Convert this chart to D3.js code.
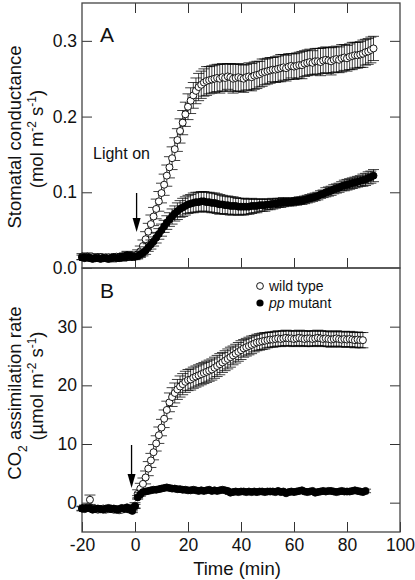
<!DOCTYPE html>
<html><head><meta charset="utf-8">
<script src="https://cdn.jsdelivr.net/npm/d3@7"></script>
<style>body{margin:0;background:#fff}svg{display:block}text{font-family:"Liberation Sans",Arial,sans-serif;fill:#111}</style>
</head><body><svg id="c" width="415" height="580"></svg>
<script>
// time grid: 1-min sampling starting at -20 min
const timeStart = -20;
// Panel A: stomatal conductance (mol m-2 s-1)
const wtA = [0.015,0.014,0.015,0.014,0.014,0.013,0.014,0.014,0.013,0.014,0.014,0.013,0.014,0.015,0.014,0.014,0.015,0.016,0.015,0.016,
0.016,0.018,0.022,0.029,0.038,0.048,0.058,0.068,0.078,0.088,0.099,
0.110,0.122,0.133,0.145,0.157,0.169,0.181,0.192,0.203,0.213,
0.221,0.228,0.234,0.239,0.242,0.245,0.247,0.248,0.249,0.250,
0.251,0.250,0.252,0.251,0.253,0.252,0.250,0.251,0.252,0.251,
0.250,0.252,0.253,0.252,0.254,0.255,0.256,0.258,0.259,0.260,
0.261,0.262,0.262,0.263,0.264,0.265,0.264,0.266,0.267,0.266,
0.267,0.268,0.268,0.270,0.271,0.272,0.271,0.273,0.273,0.272,
0.274,0.275,0.274,0.273,0.275,0.276,0.275,0.277,0.278,0.277,
0.279,0.280,0.281,0.281,0.282,0.283,0.285,0.286,0.288,0.290];
const wtAErr = [0.004,0.004,0.005,0.004,0.004,0.004,0.005,0.004,0.004,0.004,0.004,0.005,0.004,0.004,0.004,0.005,0.005,0.006,0.005,0.005,
0.005,0.006,0.007,0.008,0.010,0.011,0.012,0.012,0.013,0.013,0.013,
0.014,0.014,0.014,0.015,0.015,0.015,0.016,0.016,0.016,0.017,
0.017,0.017,0.017,0.018,0.018,0.018,0.019,0.018,0.018,0.018,
0.018,0.019,0.018,0.018,0.017,0.018,0.019,0.018,0.018,0.018,
0.018,0.017,0.018,0.018,0.018,0.018,0.017,0.018,0.017,0.017,
0.017,0.016,0.017,0.017,0.018,0.017,0.017,0.017,0.016,0.017,
0.017,0.017,0.018,0.017,0.017,0.017,0.016,0.017,0.017,0.018,
0.017,0.017,0.017,0.018,0.017,0.017,0.017,0.018,0.017,0.017,
0.017,0.018,0.017,0.017,0.017,0.018,0.017,0.017,0.017,0.016];
const ppA = [0.014,0.013,0.014,0.013,0.012,0.013,0.013,0.012,0.013,0.013,0.012,0.013,0.014,0.013,0.013,0.014,0.015,0.017,0.016,0.015,
0.015,0.016,0.018,0.020,0.023,0.027,0.031,0.035,0.040,0.045,0.050,
0.055,0.060,0.064,0.068,0.072,0.075,0.078,0.080,0.082,0.084,
0.085,0.086,0.087,0.087,0.088,0.088,0.087,0.087,0.086,0.086,
0.085,0.084,0.084,0.083,0.083,0.082,0.082,0.082,0.081,0.081,
0.081,0.081,0.081,0.082,0.082,0.082,0.083,0.083,0.083,0.084,
0.084,0.085,0.085,0.086,0.086,0.087,0.087,0.087,0.087,0.088,
0.088,0.089,0.089,0.090,0.091,0.092,0.093,0.094,0.095,0.097,
0.098,0.100,0.101,0.102,0.104,0.105,0.106,0.108,0.109,0.110,
0.111,0.112,0.113,0.114,0.115,0.116,0.117,0.119,0.120,0.122];
const ppAErr = [0.003,0.003,0.003,0.003,0.003,0.003,0.003,0.003,0.003,0.003,0.003,0.003,0.003,0.003,0.003,0.003,0.004,0.004,0.003,0.003,
0.003,0.003,0.004,0.004,0.005,0.005,0.006,0.006,0.007,0.007,0.008,
0.008,0.009,0.009,0.010,0.010,0.011,0.011,0.012,0.012,0.012,
0.012,0.013,0.013,0.013,0.013,0.013,0.013,0.013,0.013,0.013,
0.013,0.013,0.012,0.012,0.012,0.012,0.012,0.011,0.011,0.011,
0.011,0.010,0.010,0.010,0.009,0.009,0.008,0.008,0.008,0.007,
0.007,0.007,0.006,0.006,0.006,0.006,0.005,0.005,0.005,0.005,
0.005,0.005,0.005,0.005,0.005,0.005,0.005,0.005,0.005,0.005,
0.005,0.006,0.006,0.006,0.006,0.006,0.006,0.006,0.007,0.007,
0.007,0.007,0.007,0.007,0.007,0.008,0.008,0.008,0.008,0.008];
// Panel B: CO2 assimilation rate (umol m-2 s-1)
const wtB = [-1.0,-0.9,-0.8,0.5,-1.1,-1.0,-1.2,-1.1,-1.0,-1.2,-1.1,-1.0,-1.2,-1.1,-1.3,-1.2,-1.0,-1.1,-1.2,-1.0,
-0.5,1.5,2.4,3.2,4.3,5.8,7.2,8.6,10.1,11.5,12.8,
14.3,15.8,17.1,18.0,18.7,19.3,19.8,20.2,20.6,20.9,
21.0,21.3,21.5,21.7,21.9,22.1,22.3,22.5,22.7,23.0,
23.3,23.6,23.9,24.2,24.5,24.8,25.1,25.4,25.7,26.0,
26.3,26.5,26.7,26.9,27.1,27.3,27.4,27.5,27.6,27.7,
27.8,27.8,27.9,28.0,27.9,28.0,28.1,28.0,28.0,27.9,
28.0,28.1,28.0,27.9,28.0,28.0,27.9,28.0,28.1,28.0,
27.9,28.0,27.9,27.8,27.9,28.0,27.9,27.8,27.9,27.8,
27.9,27.8,27.7,27.8,27.7,27.7];
const wtBErr = [0.4,0.5,0.5,0.8,0.4,0.4,0.4,0.4,0.4,0.4,0.4,0.4,0.4,0.4,0.4,0.4,0.4,0.4,0.4,0.4,
0.5,0.7,0.9,1.0,1.1,1.2,1.2,1.3,1.3,1.4,1.4,
1.5,1.5,1.6,1.6,1.7,1.7,1.8,1.8,1.8,1.8,
1.8,1.8,1.8,1.8,1.8,1.8,1.8,1.8,1.8,1.8,
1.8,1.8,1.7,1.7,1.7,1.7,1.6,1.6,1.6,1.6,
1.5,1.5,1.5,1.5,1.4,1.4,1.4,1.4,1.4,1.3,
1.3,1.3,1.3,1.3,1.3,1.3,1.3,1.3,1.3,1.3,
1.3,1.3,1.3,1.3,1.3,1.3,1.3,1.3,1.3,1.3,
1.3,1.3,1.3,1.3,1.3,1.3,1.3,1.3,1.3,1.3,
1.3,1.3,1.3,1.3,1.3,1.3];
const ppB = [-1.0,-1.1,-0.9,-1.0,-1.2,-1.1,-1.0,-1.1,-1.2,-1.0,-0.9,-1.1,-1.0,-1.2,-1.1,-0.9,-1.0,-0.8,-1.1,-1.4,
-0.6,0.9,1.4,1.8,1.9,2.0,2.1,2.2,2.2,2.3,2.4,
2.5,2.6,2.5,2.4,2.4,2.3,2.3,2.2,2.2,2.1,
2.1,2.2,2.1,2.0,2.1,2.0,2.1,2.2,2.0,2.1,
2.0,2.1,2.2,2.1,2.0,1.7,1.8,1.9,1.8,1.9,
1.9,1.8,1.9,1.8,1.9,1.8,1.9,1.9,1.8,1.9,
1.9,1.9,1.8,2.0,1.8,1.9,1.6,1.8,1.9,1.8,
1.9,2.0,2.1,1.9,1.8,1.9,2.0,1.7,1.8,1.9,
2.0,1.9,2.0,2.0,1.9,1.8,1.9,2.0,1.9,1.9,
1.9,2.0,2.1,2.0,1.9,1.8,2.0];
const ppBErr = [0.3,0.3,0.3,0.3,0.3,0.3,0.3,0.3,0.3,0.3,0.3,0.3,0.3,0.3,0.3,0.3,0.3,0.3,0.3,0.3,
0.3,0.3,0.3,0.3,0.3,0.3,0.3,0.3,0.3,0.3,0.3,
0.3,0.3,0.3,0.3,0.3,0.3,0.3,0.3,0.3,0.3,
0.3,0.3,0.3,0.3,0.3,0.3,0.3,0.3,0.3,0.3,
0.3,0.3,0.3,0.3,0.3,0.3,0.3,0.3,0.3,0.3,
0.3,0.3,0.3,0.3,0.3,0.3,0.3,0.3,0.3,0.3,
0.3,0.3,0.3,0.3,0.3,0.3,0.3,0.3,0.3,0.3,
0.3,0.3,0.3,0.3,0.3,0.3,0.3,0.3,0.3,0.3,
0.3,0.3,0.3,0.3,0.3,0.3,0.3,0.3,0.3,0.3,
0.3,0.3,0.3,0.3,0.3,0.3,0.3];
const xTickValues = [-20,0,20,40,60,80,100];
const yTicksA = [0,0.1,0.2,0.3];
const yTicksB = [0,10,20,30];
const legendLabels = ["wild type","pp mutant"];

const svg = d3.select("#c");
const L=82, R=400, T=3, MID=268, B=532;
const x = d3.scaleLinear().domain([-20,100]).range([L,R]);
const yA = d3.scaleLinear().domain([0,0.35]).range([MID,T]);
const yB = d3.scaleLinear().domain([-5,40]).range([B,MID]);

const toPts = (vals, errs) => vals.map((v,i)=>({t: timeStart+i, v, e: errs[i]}));

function axisStyle(g){
  g.select(".domain").remove();
  g.selectAll(".tick line").attr("stroke","#333").attr("stroke-width",1);
  g.selectAll(".tick text").attr("font-size",17.5).attr("fill","#111")
   .attr("font-family","'Liberation Sans',Arial,sans-serif");
}
// Panel A axes
svg.append("g").attr("transform",`translate(${L},0)`)
  .call(d3.axisLeft(yA).tickValues(yTicksA).tickFormat(d3.format(".1f")).tickSize(-10).tickPadding(5)).call(axisStyle);
svg.append("g").attr("transform",`translate(${R},0)`)
  .call(d3.axisRight(yA).tickValues(yTicksA.slice(1)).tickFormat("").tickSize(-10)).call(axisStyle);
svg.append("g").attr("transform",`translate(0,${T})`)
  .call(d3.axisTop(x).tickValues(xTickValues.slice(1,-1)).tickFormat("").tickSize(-10)).call(axisStyle);
svg.append("g").attr("transform",`translate(0,${MID})`)
  .call(d3.axisBottom(x).tickValues(xTickValues.slice(1,-1)).tickFormat("").tickSize(-10)).call(axisStyle);
// Panel B axes
svg.append("g").attr("transform",`translate(${L},0)`)
  .call(d3.axisLeft(yB).tickValues(yTicksB).tickSize(-10).tickPadding(5)).call(axisStyle);
svg.append("g").attr("transform",`translate(${R},0)`)
  .call(d3.axisRight(yB).tickValues(yTicksB).tickFormat("").tickSize(-10)).call(axisStyle);
svg.append("g").attr("transform",`translate(0,${B})`)
  .call(d3.axisBottom(x).tickValues(xTickValues).tickSize(-10).tickPadding(7).tickFormat(d=>d<0?"-"+Math.abs(d):d)).call(axisStyle);

// frames
svg.append("rect").attr("x",L).attr("y",T).attr("width",R-L).attr("height",MID-T)
  .attr("fill","none").attr("stroke","#444").attr("stroke-width",1.3);
svg.append("rect").attr("x",L).attr("y",MID).attr("width",R-L).attr("height",B-MID)
  .attr("fill","none").attr("stroke","#444").attr("stroke-width",1.3);

function drawSeries(pts, y, filled){
  const g = svg.append("g");
  const eb = g.append("g").attr("stroke","#000").attr("stroke-width",0.75);
  pts.forEach(d=>{
    const x0=x(d.t), y1=y(d.v-d.e), y2=y(d.v+d.e);
    eb.append("line").attr("x1",x0).attr("x2",x0).attr("y1",y1).attr("y2",y2);
    eb.append("line").attr("x1",x0-5.5).attr("x2",x0+5.5).attr("y1",y1).attr("y2",y1);
    eb.append("line").attr("x1",x0-5.5).attr("x2",x0+5.5).attr("y1",y2).attr("y2",y2);
  });
  g.selectAll("circle").data(pts).join("circle")
    .attr("cx",d=>x(d.t)).attr("cy",d=>y(d.v)).attr("r",3.5)
    .attr("fill",filled?"#000":"#fff").attr("stroke","#000").attr("stroke-width",0.9);
}
drawSeries(toPts(wtA,wtAErr), yA, false);
drawSeries(toPts(ppA,ppAErr), yA, true);
drawSeries(toPts(wtB,wtBErr), yB, false);
drawSeries(toPts(ppB,ppBErr), yB, true);

// Axis titles
const tA = svg.append("text").attr("transform","translate(21,137) rotate(-90)").attr("text-anchor","middle").attr("font-size",18.5);
tA.text("Stomatal conductance");
const tA2 = svg.append("text").attr("transform","translate(43,139) rotate(-90)").attr("text-anchor","middle").attr("font-size",18.5);
tA2.append("tspan").text("(mol m");
tA2.append("tspan").attr("dy",-7).attr("font-size",12).text("-2");
tA2.append("tspan").attr("dy",7).text(" s");
tA2.append("tspan").attr("dy",-7).attr("font-size",12).text("-1");
tA2.append("tspan").attr("dy",7).text(")");

const tB = svg.append("text").attr("transform","translate(21,393) rotate(-90)").attr("text-anchor","middle").attr("font-size",18.5);
tB.append("tspan").text("CO");
tB.append("tspan").attr("dy",6).attr("font-size",12).text("2");
tB.append("tspan").attr("dy",-6).text(" assimilation rate");
const tB2 = svg.append("text").attr("transform","translate(43,386) rotate(-90)").attr("text-anchor","middle").attr("font-size",18.5);
tB2.append("tspan").text("(\u00B5mol m");
tB2.append("tspan").attr("dy",-7).attr("font-size",12).text("-2");
tB2.append("tspan").attr("dy",7).text(" s");
tB2.append("tspan").attr("dy",-7).attr("font-size",12).text("-1");
tB2.append("tspan").attr("dy",7).text(")");

svg.append("text").attr("x",237).attr("y",575).attr("text-anchor","middle").attr("font-size",18.5).text("Time (min)");

// panel letters
svg.append("text").attr("x",100).attr("y",42).attr("font-size",21).text("A");
svg.append("text").attr("x",100).attr("y",298).attr("font-size",21).text("B");

// Light on + arrows
svg.append("text").attr("x",93).attr("y",159).attr("font-size",16).text("Light on");
function arrow(xv, yTop, yTip){
  svg.append("line").attr("x1",xv).attr("x2",xv).attr("y1",yTop).attr("y2",yTip-10).attr("stroke","#000").attr("stroke-width",1.3);
  svg.append("path").attr("d",`M${xv-4},${yTip-14}L${xv+4},${yTip-14}L${xv},${yTip}Z`).attr("fill","#000");
}
arrow(x(0.6), 193, 232);
arrow(x(-1.3), 445, 488);

// legend
svg.append("circle").attr("cx",260).attr("cy",286).attr("r",3.4).attr("fill","#fff").attr("stroke","#000").attr("stroke-width",0.9);
svg.append("text").attr("x",269).attr("y",291).attr("font-size",14).text(legendLabels[0]);
svg.append("circle").attr("cx",260).attr("cy",303).attr("r",3.6).attr("fill","#000");
const lg = svg.append("text").attr("x",269).attr("y",308).attr("font-size",14);
lg.append("tspan").attr("font-style","italic").text(legendLabels[1].split(" ")[0]);
lg.append("tspan").text(" " + legendLabels[1].split(" ")[1]);
</script></body></html>
